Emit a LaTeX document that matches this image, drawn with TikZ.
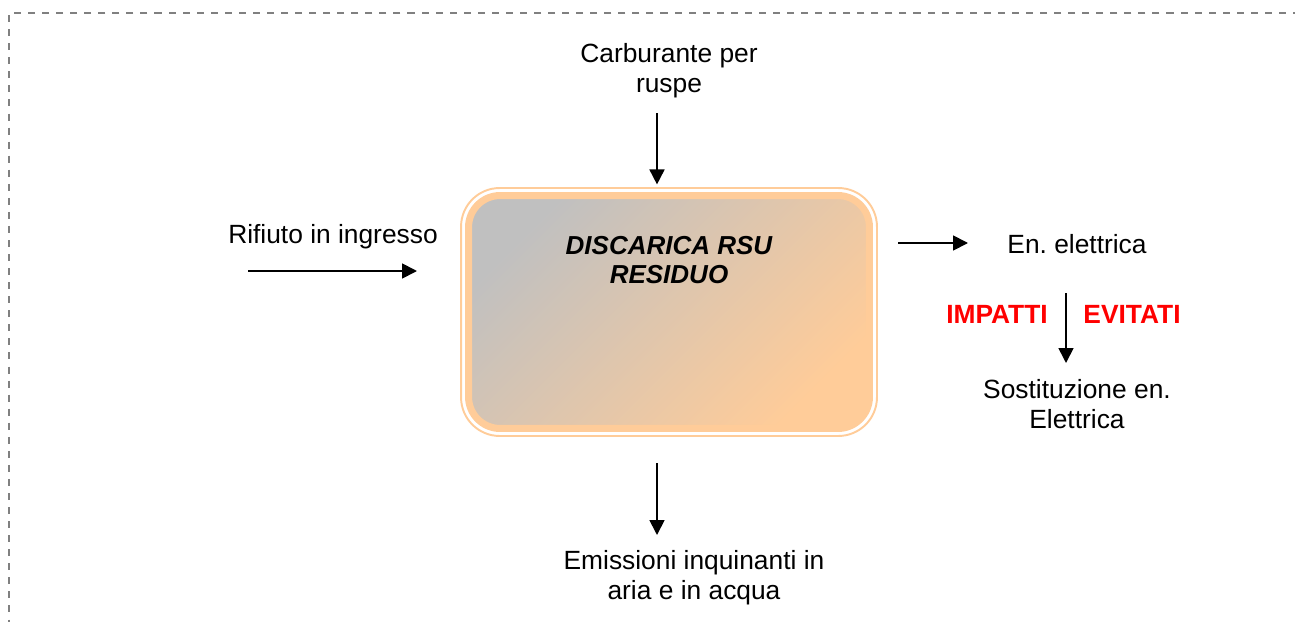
\documentclass[tikz,border=0pt]{standalone}
\usepackage{fontspec}
\setmainfont{Liberation Sans}
\usetikzlibrary{arrows.meta}
\usepackage{xcolor}
\definecolor{peach}{HTML}{FFCC99}
\definecolor{silver}{HTML}{C0C0C0}
\definecolor{framegray}{HTML}{808080}
\definecolor{alertred}{HTML}{FF0000}
\frenchspacing

\begin{document}
\begin{tikzpicture}[
    x=0.02cm, y=-0.02cm,
    >={Triangle[length=8.5pt, width=8.5pt]},
    txt/.style={
        font=\fontsize{15}{17}\selectfont,
        align=center,
        inner sep=0pt,
    },
    redtxt/.style={
        font=\fontsize{15}{17}\selectfont\bfseries,
        text=alertred,
        inner sep=0pt,
    },
    flow/.style={->, line width=1pt, black},
    plant/.style={
        draw=peach,
        line width=4pt,
        rounded corners=18pt,
        minimum width=8.02cm,
        minimum height=4.66cm,
        top color=silver,
        bottom color=peach,
        shading angle=45,
    },
    rim/.style={
        draw=peach,
        line width=1.1pt,
        rounded corners=22pt,
        minimum width=8.32cm,
        minimum height=4.96cm,
    },
]
\useasboundingbox (0,0) rectangle (1295,622);

% --- Dashed page frame (only top and left edges visible) ---
\draw[framegray, line width=0.85pt, dash pattern=on 4pt off 4pt]
    (1300,13) -- (9,13) -- (9,630);

% --- Landfill block ---
\node[plant] (plant) at (669,312) {};
\node[rim] (rim) at (plant.center) {};
\node[txt, font=\fontsize{14.8}{17}\selectfont\bfseries\itshape] (plantname)
    at (669,260) {DISCARICA RSU\\RESIDUO};

% --- Inputs ---
\node[txt] (fuel) at (669,71) {Carburante per\\ruspe};
\node[txt] (waste) at (333,237) {Rifiuto in ingresso};

% --- Outputs ---
\node[txt] (power) at (1077,244) {En. elettrica};
\node[redtxt] (impacts) at (997,314) {IMPATTI};
\node[redtxt] (avoided) at (1132,314) {EVITATI};
\node[txt] (swap) at (1077,404) {Sostituzione en.\\Elettrica};
\node[txt] (emis) at (694,578) {Emissioni inquinanti in\\aria e in acqua};

% --- Flow arrows ---
\coordinate (fuelA) at (657,113);
\coordinate (inA) at (248,271);
\coordinate (inB) at (417,271);
\coordinate (outA) at (898,243);
\coordinate (outB) at (968,243);
\coordinate (swapA) at (1066,293);
\coordinate (swapB) at (1066,363);
\coordinate (emisA) at (657,463);
\coordinate (emisB) at (657,535);

\draw[flow, shorten >=1.5pt] (fuelA) -- (fuelA |- rim.north);
\draw[flow] (inA) -- (inB);
\draw[flow] (outA) -- (outB);
\draw[flow] (swapA) -- (swapB);
\draw[flow] (emisA) -- (emisB);

\end{tikzpicture}
\end{document}
